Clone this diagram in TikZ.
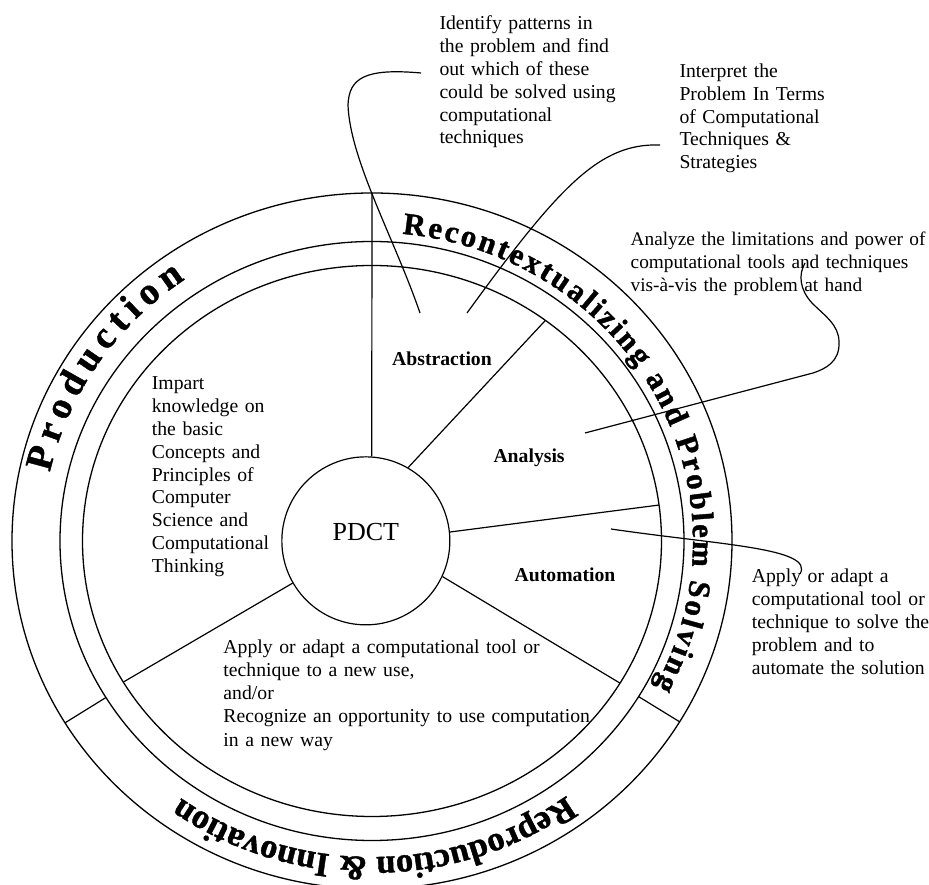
\documentclass[tikz,border=0pt]{standalone}
\usepackage{fontspec}
\setmainfont{Liberation Serif}
\newfontfamily\ringfont{Liberation Serif}[BoldFeatures={FakeBold=1.2}]
\usetikzlibrary{decorations.text}
\begin{document}
\begin{tikzpicture}[x=1pt,y=1pt,
  spoke/.style={line width=1.2pt},
  ringline/.style={line width=1.3pt},
  callout/.style={line width=1.2pt},
  blocktext/.style={anchor=base west, inner sep=0pt, align=left, text width=430pt, font=\fontsize{19.7}{22.9}\selectfont},
  seclabel/.style={anchor=base west, inner sep=0pt, font=\fontsize{19.7}{22.9}\selectfont\bfseries},
]
\useasboundingbox (-372,-344) rectangle (557,541);

% rings
\draw[ringline] (0,0) ellipse [x radius=360pt, y radius=348pt];
\draw[ringline] (0,0) ellipse [x radius=312pt, y radius=299.5pt];
\draw[ringline] (0,0) ellipse [x radius=289.5pt, y radius=275.5pt];

% centre
\node[circle, draw, line width=1.2pt, minimum size=168pt, inner sep=0pt,
      font=\fontsize{26}{26}\selectfont, text height=18pt, text depth=18pt] (pdct) at (-6.15,0.15) {PDCT};

% spoke end points
\coordinate (otop) at (90:360pt and 348pt);
\coordinate (eAbs) at (53.2:289.5pt and 275.5pt);
\coordinate (eAna) at (7.5:289.5pt and 275.5pt);
\coordinate (eAut) at (-31.06:289.5pt and 275.5pt);
\coordinate (eLL)  at (-149.2:289.5pt and 275.5pt);
\coordinate (rRa) at (-31.3:312pt and 299.5pt);
\coordinate (rRb) at (-31.3:360pt and 348pt);
\coordinate (rLa) at (-148.5:312pt and 299.5pt);
\coordinate (rLb) at (-148.5:360pt and 348pt);

\draw[spoke] (pdct.86) -- (otop);
\draw[spoke] (pdct.60.6) -- (eAbs);
\draw[spoke] (pdct.6.15) -- (eAna);
\draw[spoke] (pdct.-25.7) -- (eAut);
\draw[spoke] (pdct.210) -- (eLL);
\draw[spoke] (rRa) -- (rRb);
\draw[spoke] (rLa) -- (rLb);

% ring texts
\path[decorate, decoration={text along path, text align={fit to path},
  text={|\fontsize{38}{38}\selectfont\ringfont\bfseries|Production}}]
  (167.5:330pt and 317.5pt) arc[start angle=167.5, end angle=124.5, x radius=330pt, y radius=317.5pt];
\path[decorate, decoration={text along path, text align={fit to path},
  text={|\fontsize{31}{31}\selectfont\ringfont\bfseries|Recontextualizing and Problem Solving}}]
  (84.6:321pt and 308.5pt) arc[start angle=84.6, end angle=-28.2, x radius=321pt, y radius=308.5pt];
\path[decorate, decoration={text along path, text align={center},
  text={|\fontsize{34.5}{34.5}\selectfont\ringfont\bfseries|Reproduction {\&} Innovation}}]
  (-45:328.5pt and 316pt) arc[start angle=-45, end angle=-134.2, x radius=328.5pt, y radius=316pt];

% sector labels
\node[seclabel] (abs) at (20,175) {Abstraction};
\node[seclabel] (ana) at (121.3,78.7) {Analysis};
\node[seclabel] (aut) at (142.5,-40.5) {Automation};

% text blocks
\node[blocktext] (tIdent) at (67.3,511.5) {Identify patterns in\\the problem and find\\out which of these\\could be solved using\\computational\\techniques};
\node[blocktext] (tInterp) at (307.3,463.7) {Interpret the\\Problem In Terms\\of Computational\\Techniques \&\\Strategies};
\node[blocktext, font=\fontsize{19.3}{22.9}\selectfont] (tAnalyze) at (258.5,295.3) {Analyze the limitations and power of\\computational tools and techniques\\vis-à-vis the problem at hand};
\node[blocktext] (tApply) at (379.7,-41.7) {Apply or adapt a\\computational tool or\\technique to solve the\\problem and to\\automate the solution};
\node[blocktext] (tImpart) at (-220.3,151.5) {Impart\\knowledge on\\the basic\\Concepts and\\Principles of\\Computer\\Science and\\Computational\\Thinking};
\node[blocktext, font=\fontsize{19.7}{23.2}\selectfont] (tNew) at (-148.7,-112.3) {Apply or adapt a computational tool or\\technique to a new use,\\and/or\\Recognize an opportunity to use computation\\in a new way};

% callouts
\coordinate (c1s) at (49,468);
\coordinate (c1e) at (48,228);
\draw[callout] (c1s) .. controls (-7,473) and (-23,463) .. (-24,436) .. controls (-22,381) and (23,301) .. (c1e);
\coordinate (c2s) at (288,396);
\coordinate (c2e) at (95,228);
\draw[callout] (c2s) .. controls (228,398) and (188,356) .. (c2e);
\coordinate (c3s) at (433,278);
\coordinate (c3e) at (213,108);
\draw[callout] (c3s) .. controls (426,266) and (428,251) .. (440,238) .. controls (453,225) and (467,216) .. (467,199) .. controls (468,179) and (453,172) .. (441,168) -- (c3e);
\coordinate (c4s) at (428,-33);
\coordinate (c4e) at (239,12);
\draw[callout] (c4e) .. controls (348,-4) and (443,-7) .. (c4s);
\end{tikzpicture}
\end{document}
